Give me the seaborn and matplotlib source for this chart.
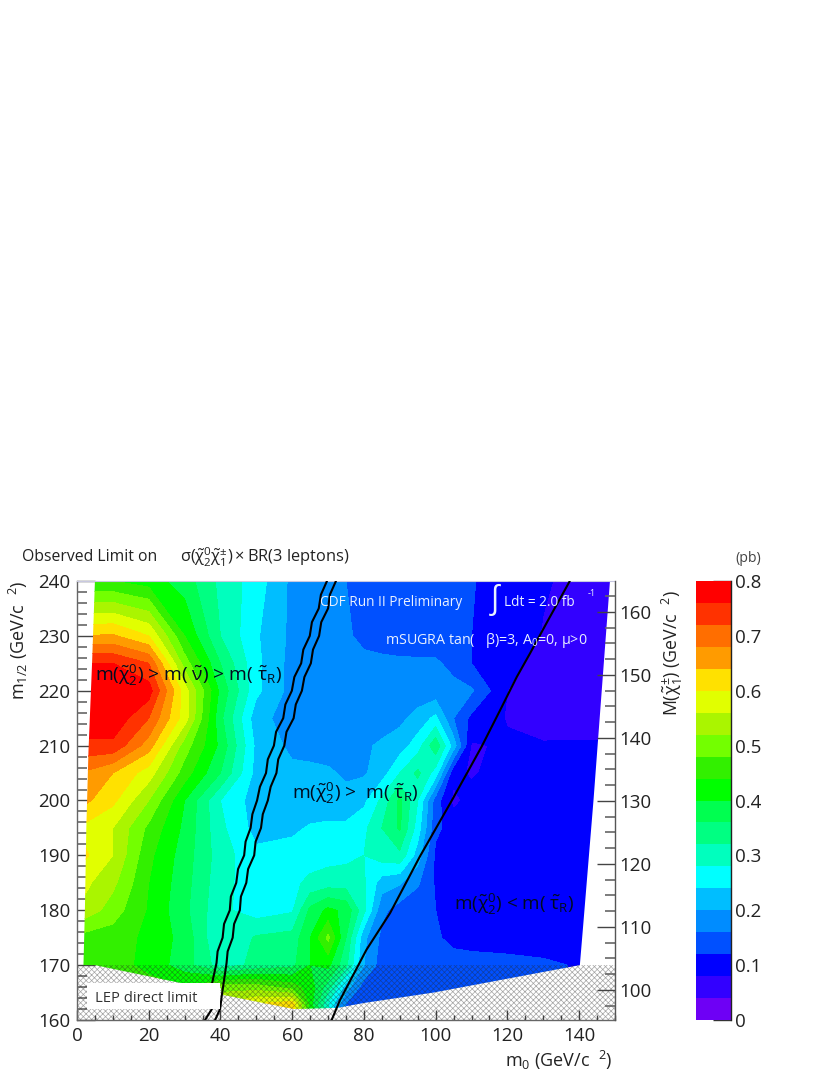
import numpy as np
import matplotlib
matplotlib.use("Agg")
import matplotlib.pyplot as plt
from matplotlib.colors import ListedColormap, BoundaryNorm
from matplotlib.patches import Polygon, Rectangle
from matplotlib.ticker import MultipleLocator
import seaborn as sns

# ---------- data ----------
m0_grid = [0, 10, 20, 30, 40, 50, 60, 65, 70, 75, 80, 85, 90, 95, 100, 105, 110, 120, 130, 150]
m12_grid = [160, 163, 166, 170, 175, 180, 185, 190, 195, 200, 205, 210, 215, 220, 225, 230, 240]

sigma_160 = [.50, .50, .50, .54, .58, .62, .66, .44, .28, .15, .13, .13, .13, .13, .13, .13, .13, .13, .12, .11]
sigma_163 = [.50, .50, .50, .52, .56, .60, .62, .42, .28, .16, .135, .13, .13, .13, .13, .13, .13, .13, .12, .11]
sigma_166 = [.48, .47, .46, .44, .50, .50, .46, .42, .34, .22, .14, .135, .13, .13, .13, .13, .13, .13, .125, .11]
sigma_170 = [.47, .46, .425, .38, .30, .33, .35, .40, .41, .33, .20, .14, .135, .135, .135, .135, .135, .13, .125, .11]
sigma_175 = [.47, .46, .43, .385, .28, .325, .335, .40, .49, .36, .21, .15, .14, .135, .125, .11, .105, .105, .105, .09]
sigma_180 = [.56, .50, .435, .37, .29, .26, .275, .37, .41, .39, .29, .17, .14, .135, .12, .11, .10, .10, .10, .10]
sigma_185 = [.58, .53, .44, .375, .295, .255, .27, .29, .30, .30, .285, .22, .205, .165, .115, .10, .10, .10, .10, .10]
sigma_190 = [.62, .56, .45, .38, .30, .25, .26, .26, .265, .27, .28, .30, .31, .22, .11, .10, .10, .10, .10, .10]
sigma_195 = [.60, .56, .47, .39, .29, .225, .23, .245, .25, .25, .27, .32, .365, .26, .13, .10, .10, .10, .10, .10]
sigma_200 = [.66, .61, .52, .40, .28, .22, .215, .21, .21, .21, .23, .29, .37, .28, .14, .07, .095, .10, .10, .10]
sigma_205 = [.68, .64, .58, .46, .36, .225, .21, .21, .205, .195, .195, .22, .28, .33, .26, .09, .075, .10, .10, .10]
sigma_210 = [.75, .75, .66, .50, .39, .23, .19, .185, .185, .19, .195, .205, .22, .26, .35, .22, .075, .086, .084, .085]
sigma_215 = [.79, .79, .72, .58, .37, .215, .18, .18, .18, .18, .18, .185, .19, .215, .25, .16, .11, .077, .06, .06]
sigma_220 = [.79, .79, .78, .58, .39, .25, .185, .185, .185, .18, .18, .175, .175, .175, .175, .17, .165, .08, .065, .055]
sigma_225 = [.76, .76, .72, .50, .36, .25, .185, .18, .175, .17, .165, .165, .165, .165, .165, .15, .12, .088, .07, .055]
sigma_230 = [.64, .645, .60, .44, .32, .245, .19, .175, .165, .163, .155, .15, .145, .142, .14, .13, .12, .10, .078, .06]
sigma_240 = [.44, .44, .42, .38, .31, .26, .19, .18, .17, .16, .15, .148, .145, .142, .14, .13, .122, .105, .083, .06]

sigma_rows = [sigma_160, sigma_163, sigma_166, sigma_170, sigma_175, sigma_180, sigma_185, sigma_190, sigma_195,
              sigma_200, sigma_205, sigma_210, sigma_215, sigma_220, sigma_225, sigma_230, sigma_240]

# outline of the scanned region
edge_m0 = [5, 4.2, 3.2, 2.6, 2.2, 1.8, 5, 30, 39.9, 40.5, 60.3, 72.5, 80, 99.4, 140.2, 141.1, 144, 146.3, 148.6]
edge_m12 = [240, 225, 209, 195, 180, 170, 170, 166.6, 166.2, 164.6, 162, 162.2, 163.1, 165, 170, 177, 200, 220, 240]

# mass lines
limit_a_m0 = [35.7, 37.6, 37.6, 38.9, 39.2, 40.6, 41.0, 42.6, 42.9, 44.4, 44.9, 46.6, 47.0, 48.4, 48.9, 50.2, 51.0,
              52.7, 53.2, 54.9, 55.5, 57.5, 58.1, 59.9, 60.6, 62.5, 63.1, 64.9, 65.5, 67.4, 68.0, 69.7]
limit_a_m12 = [160, 162, 166.5, 170.4, 172.5, 175, 177.5, 180, 182.5, 185, 187.5, 190, 192.5, 195, 197.5, 200, 202.5,
               205, 207.5, 210, 212.5, 215, 217.5, 220, 222.5, 225, 227.5, 230, 232.5, 235, 237.5, 240]
limit_b_m0 = [38.5, 39.9, 40.4, 41.7, 42.0, 43.4, 43.8, 45.4, 45.7, 47.2, 47.7, 49.4, 49.8, 51.3, 51.8, 53.2, 54.0,
              55.6, 56.1, 57.8, 58.4, 60.4, 61.0, 62.7, 63.4, 65.2, 65.8, 67.5, 68.1, 70.0, 70.5, 72.2]
limit_b_m12 = [160, 162, 164.6, 170.4, 172.5, 175, 177.5, 180, 182.5, 185, 187.5, 190, 192.5, 195, 197.5, 200, 202.5,
               205, 207.5, 210, 212.5, 215, 217.5, 220, 222.5, 225, 227.5, 230, 232.5, 235, 237.5, 240]
limit_c_m0 = [71, 73.3, 80.7, 87.3, 95.6, 104.5, 112.8, 118, 122.6, 126.3, 131.3, 137.4]
limit_c_m12 = [160, 163.6, 172.8, 179.5, 189.8, 200, 209.8, 216.5, 222.5, 226.8, 232.8, 240]

level_edges = [0, .04, .08, .12, .16, .20, .24, .28, .32, .36, .40, .44, .48, .52, .56, .60, .64, .68, .72, .76, .80]
level_colors = ["#6e00f5", "#3200ff", "#0000ff", "#0050ff", "#008cff", "#00beff", "#00ffff", "#00ffbe",
                "#00ff82", "#00ff50", "#00ff00", "#32f000", "#73ff00", "#aaf500", "#e1ff00", "#ffe100",
                "#ff9b00", "#ff6e00", "#ff3200", "#ff0000"]
colorbar_ticks = [0, .1, .2, .3, .4, .5, .6, .7, .8]
colorbar_labels = ["0", "0.1", "0.2", "0.3", "0.4", "0.5", "0.6", "0.7", "0.8"]

# ---------- style ----------
sns.set_style("white")
plt.rcParams["font.family"] = ["Open Sans", "DejaVu Sans"]
plt.rcParams["mathtext.fontset"] = "custom"
plt.rcParams["mathtext.rm"] = "Open Sans"
plt.rcParams["mathtext.it"] = "Open Sans"
plt.rcParams["mathtext.bf"] = "Open Sans"
plt.rcParams["mathtext.default"] = "regular"
plt.rcParams["hatch.linewidth"] = 0.5

W, H = 830, 1075
fig = plt.figure(figsize=(W / 100, H / 100), dpi=100)
ax = fig.add_axes([77 / W, 1 - 1020 / H, 538 / W, 439 / H])
text_col = "#222222"

# ---------- filled contours ----------
cmap = ListedColormap(level_colors)
norm = BoundaryNorm(level_edges, cmap.N)
cs = ax.contourf(m0_grid, m12_grid, np.array(sigma_rows), levels=level_edges, cmap=cmap, norm=norm, zorder=1)
outline = Polygon(np.column_stack([edge_m0, edge_m12]), closed=True, transform=ax.transData, fc="none", ec="none")
ax.add_patch(outline)
cs.set_clip_path(outline)

# ---------- LEP hatch ----------
ax.add_patch(Rectangle((0, 160), 150, 10, fc="none", ec=(0.15, 0.15, 0.15, 0.42), hatch="xxxxxx", lw=0, zorder=2))

for lx, ly in [(limit_a_m0, limit_a_m12), (limit_b_m0, limit_b_m12), (limit_c_m0, limit_c_m12)]:
    sns.lineplot(x=lx, y=ly, sort=False, estimator=None, color="black", lw=1.5, ax=ax, zorder=3)

ax.add_patch(Rectangle((2.9, 162), 37, 4.7, fc="white", ec="none", zorder=4))
ax.text(5.0, 164.0, "LEP direct limit", fontsize=10.6, color="#333333", va="center", zorder=5)

# ---------- axes ----------
ax.set_xlim(0, 150)
ax.set_ylim(160, 240)
ax.set_xlabel("")
ax.set_ylabel("")
ax.xaxis.set_major_locator(MultipleLocator(20))
ax.xaxis.set_minor_locator(MultipleLocator(5))
ax.yaxis.set_major_locator(MultipleLocator(10))
ax.yaxis.set_minor_locator(MultipleLocator(2))
ax.tick_params(axis="x", which="major", direction="in", length=7.5, width=1, color="#444444", bottom=True,
               labelsize=13.5, labelcolor=text_col, pad=5)
ax.tick_params(axis="x", which="minor", direction="in", length=3.8, width=1, color="#444444", bottom=True)
ax.tick_params(axis="y", which="major", direction="in", length=13, width=1, color="#444444", left=True,
               labelsize=13.5, labelcolor=text_col, pad=5)
ax.tick_params(axis="y", which="minor", direction="in", length=7.5, width=1.2, color="#666666", left=True)
for s in ["left", "bottom"]:
    ax.spines[s].set_color("#666666")
    ax.spines[s].set_linewidth(1)
ax.spines["top"].set_color("#c8c8e0")
ax.spines["top"].set_linewidth(0.8)
ax.spines["right"].set_visible(False)

ax2 = ax.twinx()
ax2.grid(False)
ax2.set_ylim(95.2, 164.9)
ax2.yaxis.set_major_locator(MultipleLocator(10))
ax2.yaxis.set_minor_locator(MultipleLocator(2.5))
ax2.tick_params(axis="y", which="major", direction="in", length=13, width=1, color="#444444", right=True,
                labelsize=13.5, labelcolor=text_col, pad=3)
ax2.tick_params(axis="y", which="minor", direction="in", length=7.5, width=1.2, color="#666666", right=True)
for s in ["top", "left", "bottom"]:
    ax2.spines[s].set_visible(False)
ax2.spines["right"].set_color("#555555")
ax2.spines["right"].set_linewidth(1)

# ---------- colour scale ----------
cax = fig.add_axes([696 / W, 1 - 1020 / H, 34.5 / W, 439 / H])
centres = (np.array(level_edges[:-1]) + np.array(level_edges[1:])) / 2
sns.heatmap(centres.reshape(-1, 1), cmap=cmap, norm=norm, cbar=False, ax=cax, xticklabels=False, yticklabels=False)
cax.set_ylim(0, len(centres))
cax.set_yticks(np.array(colorbar_ticks) / 0.04)
cax.set_yticklabels(colorbar_labels, rotation=0)
cax.yaxis.tick_right()
cax.tick_params(axis="y", direction="in", length=13, width=1, color="#333333", right=True, left=False,
                labelsize=13.5, labelcolor=text_col, pad=3)
cax.spines["right"].set_visible(True)
cax.spines["right"].set_color("#222222")
cax.spines["right"].set_linewidth(1)


# ---------- labels, placed in pixels of the picture ----------
def px_text(x, y, s, **kw):
    kw.setdefault("color", text_col)
    kw.setdefault("va", "center")
    fig.text(x / W, 1 - y / H, s, **kw)


chi20 = r"\tilde{\chi}_{2}^{0}"
chi1 = r"\tilde{\chi}_{1}^{\pm}"
dark = "#000c20"
px_text(22, 557, "Observed Limit on", fontsize=11.3)
px_text(180, 557, rf"$\sigma({chi20}{chi1})\times$BR(3 leptons)", fontsize=11.8)
px_text(18, 700, r"$m_{1/2}$ (GeV/c  $^{2}$)", fontsize=13, rotation=90, va="bottom", ha="center")
px_text(505, 1060, r"$m_{0}$ (GeV/c  $^{2}$)", fontsize=13)
px_text(672, 716, rf"M(${chi1}$) (GeV/c  $^{{2}}$)", fontsize=12.8, rotation=90, va="bottom", ha="center")
px_text(735, 558, "(pb)", fontsize=10.2, color="#444444")

px_text(95, 675, rf"m(${chi20}$) > m( $\tilde{{\nu}}$) > m( $\tilde{{\tau}}_{{R}}$)", fontsize=13.8, color=dark)
px_text(292, 793, rf"m(${chi20}$) >  m( $\tilde{{\tau}}_{{R}}$)", fontsize=13.8, color=dark)
px_text(454, 904, rf"m(${chi20}$) < m( $\tilde{{\tau}}_{{R}}$)", fontsize=13.6, color=dark)

px_text(320, 602, "CDF Run II Preliminary", fontsize=9.85, color="#e8f0ff")
px_text(488, 600, r"$\int$", fontsize=23, color="#e8f0ff")
px_text(504, 602, "Ldt = 2.0 fb", fontsize=9.85, color="#e8f0ff")
px_text(588, 593, "-1", fontsize=6.5, color="#e8f0ff")
px_text(385, 641, r"mSUGRA tan(   $\beta$)=3, A$_{0}$=0, $\mu$>0", fontsize=10.3, color="#e8f0ff")

fig.savefig("out.png", dpi=100)
